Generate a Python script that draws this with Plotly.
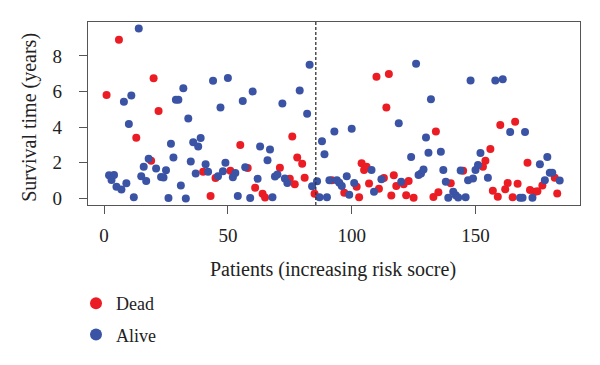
import plotly.graph_objects as go

# Dead (red) patients: index and survival time (years)
dead_x = [1, 6, 13, 19, 20, 22, 40, 43, 45, 51, 55, 58, 61, 64, 65, 71, 75, 76, 77, 78,
          80, 81, 85, 92, 97, 102, 103, 104, 105, 106, 107, 110, 111, 113, 114, 115, 116,
          117, 118, 121, 122, 123, 125, 133, 134, 135, 140, 145, 153, 154, 156, 157, 159,
          160, 162, 163, 165, 166, 167, 171, 172, 174, 175, 177, 182, 183]
dead_y = [5.8, 8.9, 3.4, 2.12, 6.75, 4.9, 1.5, 0.13, 1.15, 1.55, 3.0, 1.7, 0.6, 0.26, 0.05,
          1.72, 1.1, 3.47, 0.8, 2.3, 1.95, 1.16, 0.26, 1.02, 0.32, 0.65, 0.06, 1.98, 1.6,
          1.78, 0.83, 6.83, 0.54, 1.15, 5.1, 6.98, 0.16, 1.3, 0.7, 0.79, 0.18, 0.97, 0.04,
          0.08, 3.75, 0.35, 0.85, 1.55, 1.77, 2.12, 2.77, 0.43, 0.1, 4.12, 0.52, 0.87, 0.06,
          4.3, 0.82, 2.0, 0.47, 0.37, 0.4, 0.72, 1.16, 0.28]

# Alive (blue) patients
alive_x = [2, 3, 4, 5, 7, 8, 9, 10, 11, 12, 14, 15, 16, 17, 18, 21, 23, 24, 25, 26, 27, 28,
           29, 30, 31, 32, 33, 34, 35, 36, 37, 38, 39, 41, 42, 44, 46, 47, 48, 49, 50, 52,
           53, 54, 56, 57, 59, 60, 62, 63, 66, 67, 68, 69, 70, 72, 73, 74, 79, 82, 83, 84,
           86, 87, 88, 89, 90, 91, 93, 94, 95, 96, 98, 99, 100, 101, 108, 109, 112, 119,
           120, 124, 126, 127, 128, 129, 130, 131, 132, 136, 137, 138, 139, 141, 142, 143,
           144, 146, 147, 148, 149, 150, 151, 152, 155, 158, 161, 164, 168, 169, 170, 173,
           176, 178, 179, 180, 181, 184]
alive_y = [1.3, 1.04, 1.32, 0.65, 0.5, 5.42, 0.85, 4.18, 5.78, 0.07, 9.54, 1.25, 1.78, 0.97,
           2.23, 1.68, 1.2, 1.17, 1.58, 0.02, 3.07, 2.29, 5.53, 5.53, 0.73, 6.18, 0.0, 4.49,
           2.07, 3.15, 1.4, 2.92, 3.39, 1.92, 1.49, 6.6, 1.25, 5.1, 1.53, 2.0, 6.76, 1.19,
           1.43, 0.13, 5.46, 1.75, 0.02, 6.0, 1.1, 2.92, 2.14, 2.74, 0.07, 1.23, 1.34, 5.33,
           1.12, 0.86, 6.05, 4.75, 7.5, 0.68, 0.96, 0.06, 3.21, 2.48, 0.06, 1.02, 3.76, 1.02,
           0.88, 0.7, 1.25, 0.21, 3.91, 0.86, 1.6, 0.38, 1.08, 4.22, 0.93, 2.33, 7.55, 1.32,
           1.4, 1.62, 3.42, 2.56, 5.56, 2.62, 1.6, 0.93, 0.03, 0.38, 0.18, 0.05, 1.57, 0.07,
           1.02, 6.61, 1.12, 1.6, 1.88, 2.55, 1.16, 6.61, 6.69, 3.72, 0.04, 0.04, 3.72, 0.04,
           1.92, 1.02, 2.33, 1.44, 1.44, 1.0]

cutoff = 85.5
x_ticks = [0, 50, 100, 150]
y_ticks = [0, 2, 4, 6, 8]

RED = "#EC1C24"
BLUE = "#3A53A4"
FONT = "Liberation Serif"
TXT = "#222222"

fig = go.Figure()
fig.add_trace(go.Scatter(x=dead_x, y=dead_y, mode="markers", name="Dead",
                         legendgroup="d",
                         marker=dict(color=RED, size=8, line=dict(width=0))))
fig.add_trace(go.Scatter(x=alive_x, y=alive_y, mode="markers", name="Alive",
                         legendgroup="a",
                         marker=dict(color=BLUE, size=8, line=dict(width=0))))

fig.add_shape(type="line", x0=cutoff, x1=cutoff, y0=0, y1=1, xref="x", yref="paper",
              line=dict(color="#333333", width=1.3, dash="3px,2px"))

axis_common = dict(showline=True, linecolor="#555555", linewidth=1.2, mirror=True,
                   showgrid=False, zeroline=False, ticks="outside", ticklen=8,
                   tickcolor="#555555", tickwidth=1.2, automargin=False,
                   tickfont=dict(family=FONT, size=19, color=TXT))

fig.update_xaxes(range=[-6.5, 192.2], tickvals=x_ticks, ticklabelstandoff=5, **axis_common)
fig.update_yaxes(range=[-0.37, 9.9], tickvals=y_ticks, ticklabelstandoff=13, **axis_common)

fig.add_annotation(text="Patients (increasing risk socre)", xref="paper", yref="paper",
                   x=0.498, y=-0.3515, xanchor="center", yanchor="middle", showarrow=False,
                   font=dict(family=FONT, size=20, color=TXT))
fig.add_annotation(text="Survival time (years)", xref="paper", yref="paper",
                   x=-0.1179, y=0.482, xanchor="center", yanchor="middle", showarrow=False,
                   textangle=-90, font=dict(family=FONT, size=20, color=TXT))

fig.update_layout(
    width=592, height=357,
    margin=dict(l=80, r=20, t=14, b=159.5, autoexpand=False),
    plot_bgcolor="white", paper_bgcolor="white",
    legend=dict(x=68 / 592, y=1 - 277 / 357, xref="container", yref="container",
                xanchor="left", yanchor="top", tracegroupgap=5,
                font=dict(family=FONT, size=18, color=TXT),
                itemsizing="constant", bgcolor="rgba(0,0,0,0)"),
)

fig.write_html("out.html")
